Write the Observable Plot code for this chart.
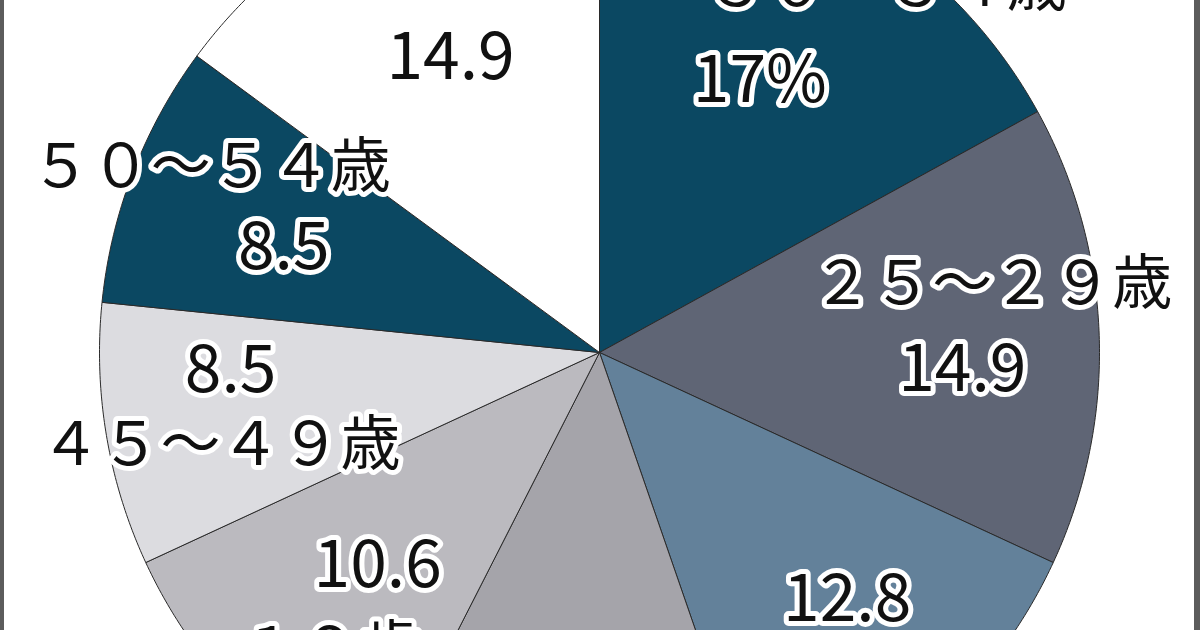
<!DOCTYPE html>
<html>
<head>
<meta charset="utf-8">
<script src="https://cdn.jsdelivr.net/npm/d3@7"></script>
<script src="https://cdn.jsdelivr.net/npm/@observablehq/plot@0.6"></script>
<style>
  html, body { margin: 0; padding: 0; background: #ffffff; }
  #wrap { position: relative; width: 1200px; height: 630px; overflow: hidden; }
  #wrap svg { display: block; }
  .edge { position: absolute; top: 0; height: 630px; background: #5c5c5c; }
  .edge.l { left: 0; width: 4px; }
  .edge.r { right: 0; width: 6px; }
</style>
</head>
<body>
<div id="wrap"><div class="edge l"></div><div class="edge r"></div></div>
<script>
// ---- data ----
const categories = ["３０～３４歳", "２５～２９歳", "２０～２４歳", "３５～３９歳", "～１９歳", "４５～４９歳", "５０～５４歳", "４０～４４歳"];
const values = [17, 14.9, 12.8, 12.8, 10.6, 8.5, 8.5, 14.9];
const valueLabels = ["17%", "14.9", "12.8", "12.8", "10.6", "8.5", "8.5", "14.9"];

// ---- styles / layout (kept apart from the data) ----
const colors = ["#0b4862", "#5f6575", "#63819a", "#a5a4aa", "#bbbabf", "#dcdce0", "#0b4862", "#ffffff"];
const numRadius = [0.63, 0.726, 0.70, 0.65, 0.616, 0.738, 0.666, 0.66];
const numOffset = [[0, 0], [0, 30], [13, -12], [0, 0], [0, 0], [-5, -43], [-5, 15], [0, 0]];
const ageOffset = [[127, -95], [30, -85], [0, 85], [0, 85], [-77, 85], [-10, 75], [-73, -80], [0, -120]];

const W = 1200, H = 630, CX = 599, CY = 352, R = 500;
const px = 1 / R; // one pixel in data units

const arcs = d3.pie().sort(null).value(d => d)(values);

// slice outlines (center -> arc -> center)
const verts = [];
arcs.forEach((a, i) => {
  const n = Math.max(2, Math.ceil((a.endAngle - a.startAngle) / (Math.PI / 360)));
  verts.push({slice: i, color: colors[i], x: 0, y: 0});
  for (let k = 0; k <= n; k++) {
    const t = a.startAngle + (a.endAngle - a.startAngle) * k / n;
    verts.push({slice: i, color: colors[i], x: Math.sin(t), y: Math.cos(t)});
  }
  verts.push({slice: i, color: colors[i], x: 0, y: 0});
});

// label anchors
const numLabels = arcs.map((a, i) => {
  const m = (a.startAngle + a.endAngle) / 2;
  return {
    text: valueLabels[i],
    x: Math.sin(m) * numRadius[i] + numOffset[i][0] * px,
    y: Math.cos(m) * numRadius[i] - numOffset[i][1] * px
  };
});
const ageLabels = numLabels.map((d, i) => ({
  text: categories[i],
  x: d.x + ageOffset[i][0] * px,
  y: d.y - ageOffset[i][1] * px
}));

const font = "'Noto Sans CJK JP', 'Noto Sans', sans-serif";

const chart = Plot.plot({
  width: W,
  height: H,
  margin: 0,
  style: {background: "transparent"},
  x: {domain: [-CX / R, (W - CX) / R], axis: null},
  y: {domain: [-(H - CY) / R, CY / R], axis: null},
  color: {type: "identity"},
  marks: [
    Plot.line(verts, {x: "x", y: "y", z: "slice", fill: "color", stroke: "#2a2a2a", strokeWidth: 1, strokeLinejoin: "round"}),
    Plot.text(ageLabels, {x: "x", y: "y", text: "text", fontSize: 60, fontWeight: 400, fontFamily: font,
      fill: "#111", stroke: "white", strokeWidth: 10, strokeLinejoin: "round"}),
    Plot.text(numLabels, {x: "x", y: "y", text: "text", fontSize: 66, fontWeight: 400, fontFamily: font,
      fill: "#111", stroke: "white", strokeWidth: 10, strokeLinejoin: "round"})
  ]
});
document.getElementById("wrap").prepend(chart);
</script>
</body>
</html>
